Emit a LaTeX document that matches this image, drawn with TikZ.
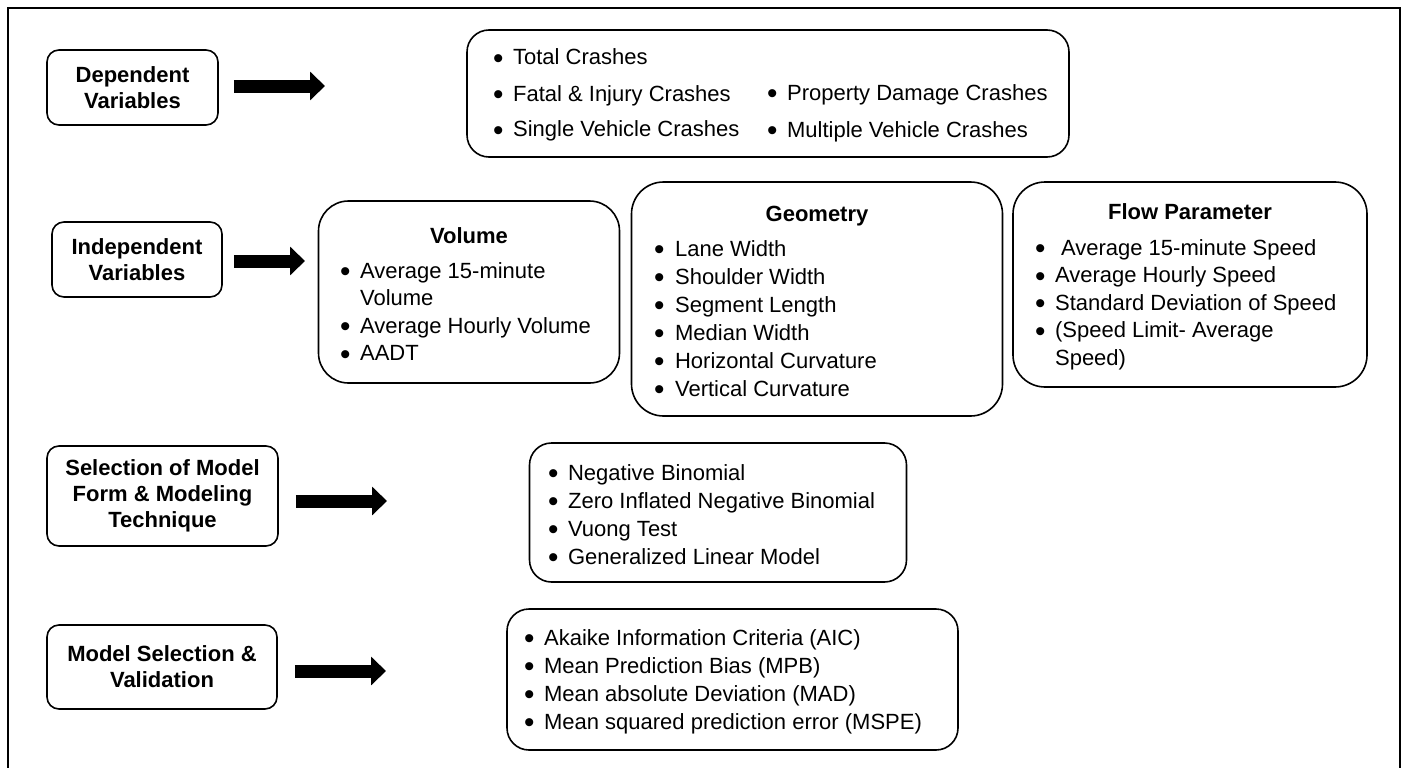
\documentclass[tikz,border=0pt]{standalone}
\usepackage{fontspec}
\setmainfont{Liberation Sans}
\usepackage{tikz}
\usetikzlibrary{arrows.meta}

\newcommand{\itm}{\raisebox{-3.8pt}{\scalebox{1.35}{\textbullet}}&}

\tikzset{
  frame/.style={line width=2.5pt},
  lbox/.style={draw, line width=1.6pt, rounded corners=12pt, align=center, inner sep=0pt,
    font=\fontsize{22}{26}\selectfont\bfseries},
  listbox/.style={draw, line width=1.6pt, inner sep=0pt},
  title/.style={anchor=base, inner sep=0pt, font=\fontsize{22}{27}\selectfont\bfseries},
  items/.style={anchor=base west, inner sep=0pt, font=\fontsize{22}{#1}\selectfont},
  items/.default=28,
  fatarrow/.style={line width=13pt, -{Triangle[length=15pt,width=28pt]}}
}

\begin{document}
\begin{tikzpicture}[x=1pt,y=1pt,yscale=-1]
\useasboundingbox (0,0) rectangle (1408,768);

%Frame (open at the bottom)
\draw [frame] (8,768) -- (8,8) -- (1400,8) -- (1400,768);

%Label Boxes
\node (dep) [lbox, minimum width=171pt, minimum height=75pt] at (132.5,87.5) {Dependent\\Variables};
\node (indep) [lbox, minimum width=170pt, minimum height=75pt] at (137,259.5) {Independent\\Variables};
\node (sel) [lbox, minimum width=231pt, minimum height=100pt] at (162.5,496) {Selection of Model\\Form \& Modeling\\Technique};
\node (msv) [lbox, minimum width=230pt, minimum height=84pt] at (162,667) {Model Selection \&\\Validation};

%Arrows
\coordinate (depTip) at (325,86);
\coordinate (indepTip) at (305,261);
\coordinate (selTip) at (387,501);
\coordinate (msvTip) at (386,671);
\draw [fatarrow, shorten <=15pt] (dep.east |- depTip) -- (depTip);
\draw [fatarrow, shorten <=11pt] (indep.east |- indepTip) -- (indepTip);
\draw [fatarrow, shorten <=17pt] (sel.east |- selTip) -- (selTip);
\draw [fatarrow, shorten <=17pt] (msv.east |- msvTip) -- (msvTip);

%Rounded Rect: crashes
\node (crash) [listbox, rounded corners=22pt, minimum width=602pt, minimum height=127pt] at (768,93.5) {};
% Text Node
\node (crashA) [items=36] at (493,65) {\begin{tabular}[t]{@{}l@{\hspace{9.5pt}}l@{}}
  \itm Total Crashes\\ \itm Fatal \& Injury Crashes\\ \itm Single Vehicle Crashes\end{tabular}};
% Text Node
\node (crashB) [items=37] at (767,100) {\begin{tabular}[t]{@{}l@{\hspace{9.5pt}}l@{}}
  \itm Property Damage Crashes\\ \itm Multiple Vehicle Crashes\end{tabular}};

%Rounded Rect: volume
\node (vol) [listbox, rounded corners=30pt, minimum width=301pt, minimum height=182pt] at (469,292) {};
% Text Node
\node (volT) [title] at (vol.center |- 0,243) {Volume};
% Text Node
\node (volL) [items=27.5] at (340,278) {\begin{tabular}[t]{@{}l@{\hspace{9.5pt}}l@{}}
  \itm Average 15-minute\\ & Volume\\ \itm Average Hourly Volume\\ \itm AADT\end{tabular}};

%Rounded Rect: geometry
\node (geo) [listbox, rounded corners=32pt, minimum width=371pt, minimum height=234pt] at (817,299) {};
% Text Node
\node (geoT) [title] at (geo.center |- 0,221) {Geometry};
% Text Node
\node (geoL) [items=28] at (654,256) {\begin{tabular}[t]{@{}l@{\hspace{10.5pt}}l@{}}
  \itm Lane Width\\ \itm Shoulder Width\\ \itm Segment Length\\ \itm Median Width\\
  \itm Horizontal Curvature\\ \itm Vertical Curvature\end{tabular}};

%Rounded Rect: flow
\node (flow) [listbox, rounded corners=32pt, minimum width=354pt, minimum height=205pt] at (1190,284.5) {};
% Text Node
\node (flowT) [title] at (flow.center |- 0,219) {Flow Parameter};
% Text Node
\node (flowL) [items=27.5] at (1035,255) {\begin{tabular}[t]{@{}l@{\hspace{9.5pt}}l@{}}
  \itm \hspace{6pt}Average 15-minute Speed\\ \itm Average Hourly Speed\\
  \itm Standard Deviation of Speed\\ \itm (Speed Limit- Average\\ & Speed)\end{tabular}};

%Rounded Rect: models
\node (mod) [listbox, rounded corners=22pt, minimum width=377pt, minimum height=139pt] at (718,512.5) {};
% Text Node
\node (modL) [items=28] at (548,480) {\begin{tabular}[t]{@{}l@{\hspace{9.5pt}}l@{}}
  \itm Negative Binomial\\ \itm Zero Inflated Negative Binomial\\ \itm Vuong Test\\
  \itm Generalized Linear Model\end{tabular}};

%Rounded Rect: validation
\node (val) [listbox, rounded corners=22pt, minimum width=451pt, minimum height=141pt] at (732.5,679.5) {};
% Text Node
\node (valL) [items=28] at (524,645) {\begin{tabular}[t]{@{}l@{\hspace{9.5pt}}l@{}}
  \itm Akaike Information Criteria (AIC)\\ \itm Mean Prediction Bias (MPB)\\
  \itm Mean absolute Deviation (MAD)\\ \itm Mean squared prediction error (MSPE)\end{tabular}};

\end{tikzpicture}
\end{document}
